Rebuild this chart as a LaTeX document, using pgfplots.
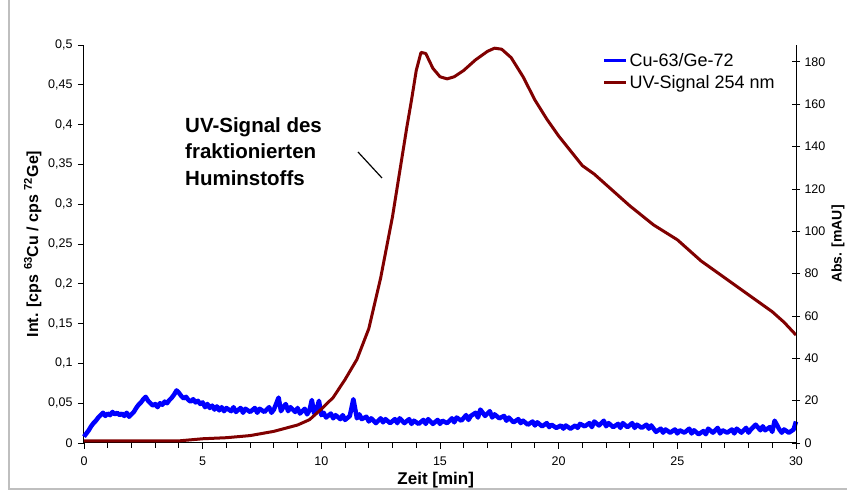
\documentclass[border=0pt]{standalone}
\usepackage{fontspec}
\setmainfont{Liberation Sans}
\usepackage{pgfplots}
\pgfplotsset{compat=1.18}
\usepackage{pgfplotstable}
\definecolor{cublue}{RGB}{0,0,255}
\definecolor{uvred}{RGB}{128,0,0}

\pgfplotstableread{
t v
0 0.008
0.1 0.012
0.2 0.016
0.3 0.021
0.4 0.025
0.5 0.028
0.6 0.032
0.7 0.035
0.8 0.038
0.9 0.034
1.0 0.037
1.1 0.035
1.2 0.039
1.3 0.036
1.4 0.038
1.5 0.035
1.6 0.037
1.7 0.034
1.8 0.038
1.9 0.033
2.0 0.036
2.1 0.039
2.2 0.044
2.3 0.048
2.4 0.051
2.5 0.055
2.6 0.058
2.7 0.053
2.8 0.050
2.9 0.047
3.0 0.049
3.1 0.045
3.2 0.050
3.3 0.048
3.4 0.052
3.5 0.050
3.6 0.054
3.7 0.057
3.8 0.061
3.9 0.066
4.0 0.063
4.1 0.059
4.2 0.056
4.3 0.058
4.4 0.054
4.5 0.052
4.6 0.055
4.7 0.051
4.8 0.053
4.9 0.049
5.0 0.051
5.1 0.045
5.2 0.049
5.3 0.044
5.4 0.047
5.5 0.042
5.6 0.046
5.7 0.041
5.8 0.045
5.9 0.040
6.0 0.044
6.2 0.040
6.3 0.045
6.4 0.039
6.6 0.044
6.7 0.038
6.8 0.043
7.0 0.039
7.2 0.044
7.3 0.038
7.4 0.043
7.6 0.039
7.8 0.045
7.9 0.038
8.0 0.042
8.2 0.057
8.3 0.040
8.4 0.045
8.5 0.049
8.6 0.040
8.7 0.045
8.9 0.039
9.0 0.044
9.1 0.037
9.3 0.043
9.4 0.036
9.5 0.041
9.6 0.054
9.7 0.037
9.8 0.042
9.9 0.053
10.0 0.035
10.1 0.038
10.2 0.032
10.4 0.037
10.5 0.031
10.6 0.035
10.8 0.030
10.9 0.035
11.0 0.029
11.2 0.034
11.35 0.055
11.5 0.031
11.6 0.036
11.7 0.030
11.9 0.033
12.0 0.027
12.1 0.031
12.3 0.025
12.5 0.031
12.6 0.026
12.7 0.030
12.9 0.025
13.1 0.030
13.2 0.025
13.3 0.031
13.5 0.025
13.7 0.030
13.8 0.024
13.9 0.028
14.1 0.024
14.3 0.029
14.4 0.024
14.5 0.030
14.7 0.024
14.9 0.029
15.0 0.024
15.1 0.028
15.3 0.025
15.5 0.031
15.6 0.026
15.7 0.032
15.9 0.028
16.1 0.035
16.2 0.029
16.3 0.034
16.5 0.038
16.6 0.032
16.7 0.042
16.9 0.034
17.1 0.040
17.2 0.032
17.3 0.036
17.5 0.031
17.7 0.034
17.8 0.028
17.9 0.032
18.1 0.026
18.3 0.030
18.4 0.025
18.5 0.028
18.7 0.023
18.9 0.027
19.0 0.022
19.1 0.026
19.3 0.021
19.5 0.025
19.6 0.020
19.7 0.023
19.9 0.019
20.1 0.022
20.2 0.018
20.3 0.022
20.5 0.018
20.7 0.022
20.8 0.019
20.9 0.024
21.1 0.021
21.3 0.025
21.4 0.020
21.5 0.027
21.7 0.022
21.9 0.028
22.0 0.021
22.1 0.025
22.3 0.020
22.5 0.024
22.6 0.019
22.7 0.025
22.9 0.020
23.1 0.025
23.2 0.019
23.3 0.023
23.5 0.019
23.7 0.023
23.8 0.018
23.9 0.022
24.1 0.014
24.3 0.018
24.4 0.013
24.5 0.017
24.7 0.013
24.9 0.017
25.0 0.012
25.1 0.016
25.3 0.013
25.5 0.018
25.6 0.012
25.7 0.016
25.9 0.011
26.1 0.015
26.2 0.011
26.3 0.018
26.5 0.013
26.7 0.019
26.8 0.012
26.9 0.016
27.1 0.013
27.3 0.017
27.4 0.012
27.5 0.018
27.7 0.013
27.9 0.019
28.0 0.013
28.1 0.017
28.3 0.023
28.5 0.016
28.6 0.021
28.7 0.016
28.9 0.020
29.0 0.014
29.1 0.028
29.3 0.017
29.4 0.013
29.5 0.017
29.7 0.013
29.9 0.017
30.0 0.027
}\cudata

\pgfplotstableread{
t a
0 1
2 1
4 1
4.5 1.5
5 2
6 2.5
7 3.5
7.5 4.5
8 5.5
8.5 7
9 8.5
9.5 11
10 16
10.5 21.5
11 30
11.5 39.5
12 54
12.5 78
13 107
13.3 128
13.6 149
13.8 162
14.0 176
14.2 184.5
14.4 184
14.7 177
15.0 173
15.3 172
15.6 173
16.0 176
16.5 181
17.0 185
17.3 186.5
17.6 186
18.0 182
18.5 173
19.0 162
19.5 153
20.0 145
20.5 138
21.0 131
21.5 127
22.0 122
22.5 117
23.0 112
23.5 107.5
24.0 103
24.5 99.5
25.0 96
25.5 91
26.0 86
26.5 82
27.0 78
27.5 74
28.0 70
28.5 66
29.0 62
29.5 57
30.0 51
}\uvdata

\begin{document}
\begin{tikzpicture}
\path[use as bounding box] (0pt,0pt) rectangle (847pt,492pt);
\draw[gray!50, line width=1.5pt] (9pt,492pt) -- (9pt,3pt) -- (847pt,3pt);
\pgfplotsset{
  every axis/.append style={
    at={(84pt,49pt)}, anchor=south west,
    scale only axis, width=712pt, height=398pt,
    xmin=0, xmax=30,
    axis line style={-, line width=1pt, black},
    tick style={black, line width=0.9pt},
    ticklabel style={font=\fontsize{12.5}{14}\selectfont},
    /pgf/number format/assume math mode=true,
  }
}
\begin{axis}[
  ymin=0, ymax=0.5,
  axis x line*=bottom, axis y line*=left,
  xtick={0,5,...,30}, minor xtick={1,2,3,4,6,7,8,9,11,12,13,14,16,17,18,19,21,22,23,24,26,27,28,29},
  tick align=outside, major tick length=6pt, minor tick length=5pt,
  ytick={0,0.05,0.1,0.15,0.2,0.25,0.3,0.35,0.4,0.45,0.5},
  /pgf/number format/use comma,
  /pgf/number format/fixed,
  /pgf/number format/precision=2,
  xticklabel style={yshift=-4pt},
  yticklabel style={xshift=-2pt},
  xlabel={\textbf{Zeit [min]}},
  xlabel style={font=\fontsize{17}{19}\selectfont, at={(axis description cs:0.494,-0.093)}, anchor=center},
  ylabel={\textbf{Int. [cps \textsuperscript{63}Cu / cps \textsuperscript{72}Ge]}},
  ylabel style={font=\fontsize{16}{18}\selectfont, at={(axis description cs:-0.072,0.5)}, anchor=center, rotate=0},
  clip=false,
]
\addplot[cublue, line width=4.5pt, line join=round] table[x=t,y=v] {\cudata};
\end{axis}
\begin{axis}[
  ymin=0, ymax=188,
  axis x line=none, axis y line*=right,
  ytick={0,20,...,180},
  tick align=center, major tick length=8pt,
  yticklabel style={xshift=1pt},
  ylabel={\textbf{Abs. [mAU]}},
  ylabel style={font=\fontsize{14}{16}\selectfont, at={(axis description cs:1.059,0.5)}, anchor=center, rotate=0},
  legend style={draw=none, fill=none, at={(axis description cs:0.728,0.985)}, anchor=north west,
    font=\fontsize{18}{20}\selectfont, row sep=4pt, inner sep=0pt,
    /tikz/every even column/.append style={column sep=4pt}},
  legend cell align=left,
  legend image code/.code={\draw[#1, line width=3pt] (0pt,0pt) -- (22pt,0pt);},
]
\addlegendimage{cublue}
\addlegendentry{Cu-63/Ge-72}
\addplot[uvred, line width=3pt, line join=round] table[x=t,y=a] {\uvdata};
\addlegendentry{UV-Signal 254 nm}
\end{axis}
\node[anchor=north west, align=left, font=\fontsize{20.5}{26.5}\selectfont\bfseries, inner sep=0pt] at (185pt,375pt) {UV-Signal des\\fraktionierten\\Huminstoffs};
\draw[black, line width=1.2pt] (358pt,340pt) -- (382pt,314pt);
\end{tikzpicture}
\end{document}
